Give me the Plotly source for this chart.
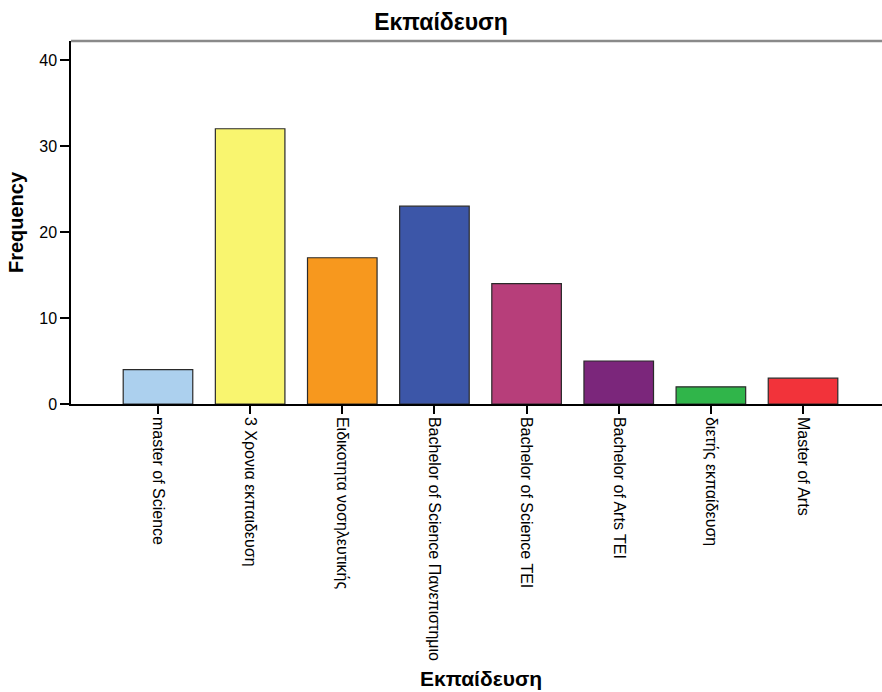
import plotly.graph_objects as go

# Frequency of each education level
categories = [
    "master of Science",
    "3 Χρονια εκπαιδευση",
    "Ειδικοτητα νοσηλευτικής",
    "Bachelor of Science Πανεπιστημιο",
    "Bachelor of Science TEI",
    "Bachelor of Arts TEI",
    "διετής εκπαίδευση",
    "Master of Arts",
]
counts = [4, 32, 17, 23, 14, 5, 2, 3]
bar_colors = [
    "#acd0ee", "#f9f56f", "#f7981e", "#3c56a8",
    "#b73e7a", "#7b267b", "#30b54a", "#f2333a",
]
y_ticks = [0, 10, 20, 30, 40]

FONT = "Liberation Sans, Arial, sans-serif"
W, H = 882, 692

fig = go.Figure(
    go.Bar(
        x=categories,
        y=counts,
        marker=dict(color=bar_colors, line=dict(color="#2a2a2a", width=1.2)),
        width=0.755,
        hoverinfo="x+y",
    )
)

fig.update_layout(
    width=W,
    height=H,
    margin=dict(l=71, r=0, t=41, b=288),
    paper_bgcolor="white",
    plot_bgcolor="white",
    showlegend=False,
    font=dict(family=FONT, size=16, color="black"),
    title=dict(
        text="<b>Εκπαίδευση</b>",
        x=0.5,
        xanchor="center",
        y=1 - 22 / H,
        yanchor="middle",
        font=dict(family=FONT, size=23, color="black"),
    ),
)

fig.update_xaxes(
    type="category",
    range=[-0.944, 7.857],
    showline=True,
    linecolor="black",
    linewidth=1.5,
    ticks="outside",
    ticklen=8,
    tickcolor="black",
    tickwidth=1.5,
    tickangle=90,
    tickfont=dict(family=FONT, size=16, color="black"),
    showgrid=False,
    zeroline=False,
    automargin=False,
)

fig.update_yaxes(
    range=[0, 42.2],
    tickvals=y_ticks,
    showline=True,
    linecolor="black",
    linewidth=1.5,
    ticks="outside",
    ticklen=9,
    tickcolor="black",
    tickwidth=1.5,
    tickfont=dict(family=FONT, size=16, color="black"),
    showgrid=False,
    zeroline=False,
    title=dict(
        text="<b>Frequency</b>",
        font=dict(family=FONT, size=20, color="black"),
        standoff=10,
    ),
    automargin=False,
)

# x-axis title placed below the rotated category labels
fig.add_annotation(
    text="<b>Εκπαίδευση</b>",
    xref="paper", yref="paper",
    x=(481 - 71) / (W - 71), y=-(678 - 404) / (404 - 41),
    xanchor="center", yanchor="middle",
    showarrow=False,
    font=dict(family=FONT, size=21, color="black"),
)

# Gray frame line across the top of the plotting area
fig.add_shape(
    type="line", xref="paper", yref="paper",
    x0=0, x1=1, y0=1, y1=1,
    line=dict(color="#8a8a8a", width=2.5),
)

fig.write_html("out.html")
